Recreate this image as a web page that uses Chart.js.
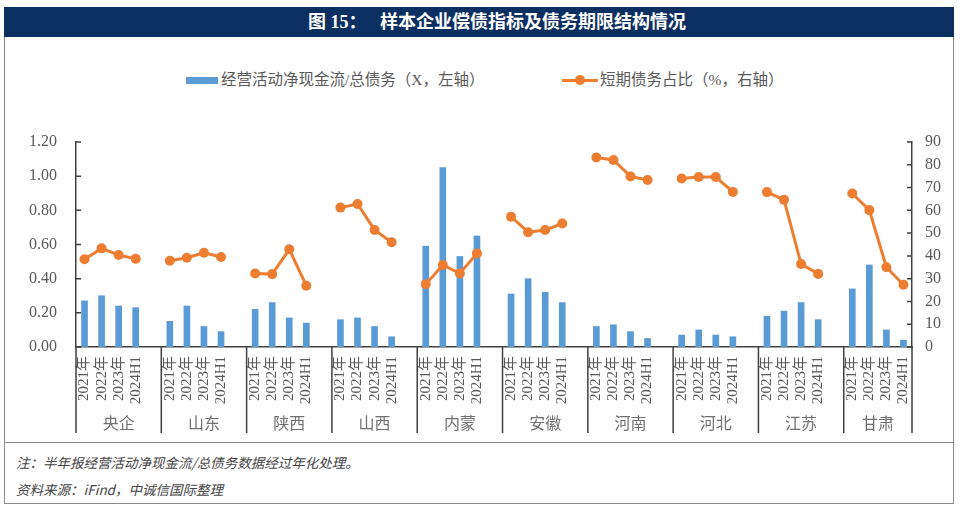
<!DOCTYPE html>
<html>
<head>
<meta charset="utf-8">
<script src="https://cdn.jsdelivr.net/npm/chart.js"></script>
<style>
  body { margin: 0; background: #fff; }
  #wrap { position: relative; width: 960px; height: 512px; overflow: hidden; }
  #frame { position: absolute; left: 4px; top: 7px; width: 950px; height: 497px; border: 1.5px solid #8a8a8a; box-sizing: border-box; }
  #head { position: absolute; left: 4px; top: 7px; width: 950px; height: 30px; background: #0c2f61; color: #fff;
          font: bold 18px "Liberation Serif", "Noto Sans CJK SC", serif; line-height: 30px; text-align: center; text-indent: 36px; }
  #noteLine { position: absolute; left: 4px; top: 442px; width: 950px; height: 0; border-top: 1.5px solid #8a8a8a; }
  .note { position: absolute; left: 16px; font: italic 13.5px "Noto Sans CJK SC", sans-serif; color: #444; }
  .leg { position: absolute; top: 70px; height: 20px; font: 15.5px "Liberation Serif", "Noto Sans CJK SC", serif; color: #595959; line-height: 20px; white-space: nowrap; }
  .swatch { display: inline-block; vertical-align: middle; position: relative; }
  #box { position: absolute; left: 5px; top: 95px; width: 948px; height: 347px; }
</style>
</head>
<body>
<div id="wrap">
  <div id="frame"></div>
  <div id="head">图 15：&nbsp;&nbsp; 样本企业偿债指标及债务期限结构情况</div>
  <div class="leg" id="leg1" style="left:186px;"><span class="swatch" style="width:32px;height:7px;background:#5b9bd5;margin-right:3px;top:-1px;"></span><span id="legText1"></span></div>
  <div class="leg" id="leg2" style="left:562px;"><span class="swatch" style="width:36px;height:10px;margin-right:2px;top:-1px;"><span style="position:absolute;left:0;top:3.5px;width:36px;height:3px;background:#ed7d31;"></span><span style="position:absolute;left:13px;top:0;width:10px;height:10px;border-radius:50%;background:#ed7d31;"></span></span><span id="legText2"></span></div>
  <div id="box"><canvas id="myChart"></canvas></div>
  <div id="noteLine"></div>
  <div class="note" style="top:452px;">注：半年报经营活动净现金流/总债务数据经过年化处理。</div>
  <div class="note" style="top:479px;">资料来源：iFind，中诚信国际整理</div>
</div>
<script>
const groups = ['央企', '山东', '陕西', '山西', '内蒙', '安徽', '河南', '河北', '江苏', '甘肃'];
const periods = ['2021年', '2022年', '2023年', '2024H1'];

// 经营活动净现金流/总债务 (X), 4 periods per group
const cashToDebt = [
  0.27, 0.30, 0.24, 0.23,
  0.15, 0.24, 0.12, 0.09,
  0.22, 0.26, 0.17, 0.14,
  0.16, 0.17, 0.12, 0.06,
  0.59, 1.05, 0.53, 0.65,
  0.31, 0.40, 0.32, 0.26,
  0.12, 0.13, 0.09, 0.05,
  0.07, 0.10, 0.07, 0.06,
  0.18, 0.21, 0.26, 0.16,
  0.34, 0.48, 0.10, 0.04
];

// 短期债务占比 (%)
const shortDebtPct = [
  38.5, 43.3, 40.4, 38.7,
  37.9, 39.2, 41.4, 39.5,
  32.3, 32.0, 42.9, 26.9,
  61.2, 62.8, 51.4, 46.0,
  27.6, 36.0, 32.3, 41.1,
  57.2, 50.4, 51.4, 54.2,
  83.2, 82.1, 74.9, 73.3,
  74.0, 74.6, 74.6, 68.1,
  68.0, 64.6, 36.4, 32.1,
  67.4, 60.1, 35.0, 27.3
];

const leftTicks = [0, 0.2, 0.4, 0.6, 0.8, 1.0, 1.2];
const rightTicks = [0, 10, 20, 30, 40, 50, 60, 70, 80, 90];

const barLabel = '经营活动净现金流/总债务（X，左轴）';
const lineLabel = '短期债务占比（%，右轴）';
document.getElementById('legText1').textContent = barLabel;
document.getElementById('legText2').textContent = lineLabel;

// excel style multi-level axis: each group gets a blank slot after it, except the last one
const slots = [], barData = [], lineData = [], groupStart = [];
groups.forEach((g, gi) => {
  groupStart.push(slots.length);
  periods.forEach((p, pi) => {
    slots.push(p);
    barData.push(cashToDebt[gi * 4 + pi]);
    lineData.push(shortDebtPct[gi * 4 + pi]);
  });
  if (gi < groups.length - 1) {
    slots.push('');
    barData.push(null);
    lineData.push(null);
  }
});

const axisColor = '#404040';
const textColor = '#595959';
const serif = '"Liberation Serif", "Noto Sans CJK SC", serif';

const groupAxis = {
  id: 'groupAxis',
  afterDraw(chart) {
    const ctx = chart.ctx;
    const xs = chart.scales.x, yl = chart.scales.y, yr = chart.scales.y1;
    const area = chart.chartArea;
    const bottom = area.bottom + 86;
    ctx.save();
    ctx.strokeStyle = axisColor;
    ctx.lineWidth = 1.5;
    // group separators
    const edges = [area.left];
    for (let i = 1; i < groupStart.length; i++) {
      const s = groupStart[i];
      edges.push((xs.getPixelForValue(s - 1) + xs.getPixelForValue(s)) / 2);
    }
    edges.push(area.right);
    ctx.beginPath();
    edges.forEach(x => { ctx.moveTo(x, area.bottom); ctx.lineTo(x, bottom); });
    // inward tick marks
    leftTicks.forEach(v => { const y = yl.getPixelForValue(v); ctx.moveTo(area.left, y); ctx.lineTo(area.left + 5, y); });
    rightTicks.forEach(v => { const y = yr.getPixelForValue(v); ctx.moveTo(area.right, y); ctx.lineTo(area.right - 5, y); });
    ctx.stroke();
    // group names
    ctx.fillStyle = '#707070';
    ctx.font = '16px ' + serif;
    ctx.textAlign = 'center';
    ctx.textBaseline = 'middle';
    groups.forEach((g, i) => {
      ctx.fillText(g, (edges[i] + edges[i + 1]) / 2, area.bottom + 78);
    });
    ctx.restore();
  }
};

new Chart(document.getElementById('myChart'), {
  type: 'bar',
  data: {
    labels: slots,
    datasets: [
      {
        type: 'line',
        label: lineLabel,
        data: lineData,
        yAxisID: 'y1',
        borderColor: '#ed7d31',
        backgroundColor: '#ed7d31',
        borderWidth: 3,
        pointRadius: 5,
        pointBorderWidth: 0,
        spanGaps: false,
        order: 0
      },
      {
        label: barLabel,
        data: barData,
        yAxisID: 'y',
        backgroundColor: '#5b9bd5',
        barThickness: 6,
        order: 1
      }
    ]
  },
  options: {
    responsive: true,
    maintainAspectRatio: false,
    animation: false,
    layout: { padding: { top: 47, left: 0, right: 0, bottom: 0 } },
    plugins: { legend: { display: false }, tooltip: { enabled: false } },
    scales: {
      x: {
        grid: { display: false, drawTicks: false },
        border: { display: true, color: axisColor, width: 1.5 },
        ticks: { autoSkip: false, maxRotation: 90, minRotation: 90, padding: 9, color: textColor, font: { family: serif, size: 15 } },
        afterFit(scale) { scale.height = 95; }
      },
      y: {
        position: 'left',
        min: 0, max: 1.2,
        grid: { display: false, drawTicks: false },
        border: { display: true, color: axisColor, width: 1.5 },
        ticks: { stepSize: 0.2, padding: 19, color: textColor, font: { family: serif, size: 16 }, callback: v => v.toFixed(2) },
        afterFit(scale) { scale.width = 71; }
      },
      y1: {
        position: 'right',
        min: 0, max: 90,
        grid: { display: false, drawTicks: false },
        border: { display: true, color: axisColor, width: 1.5 },
        ticks: { stepSize: 10, padding: 13, color: textColor, font: { family: serif, size: 16 } },
        afterFit(scale) { scale.width = 41; }
      }
    }
  },
  plugins: [groupAxis]
});
</script>
</body>
</html>
